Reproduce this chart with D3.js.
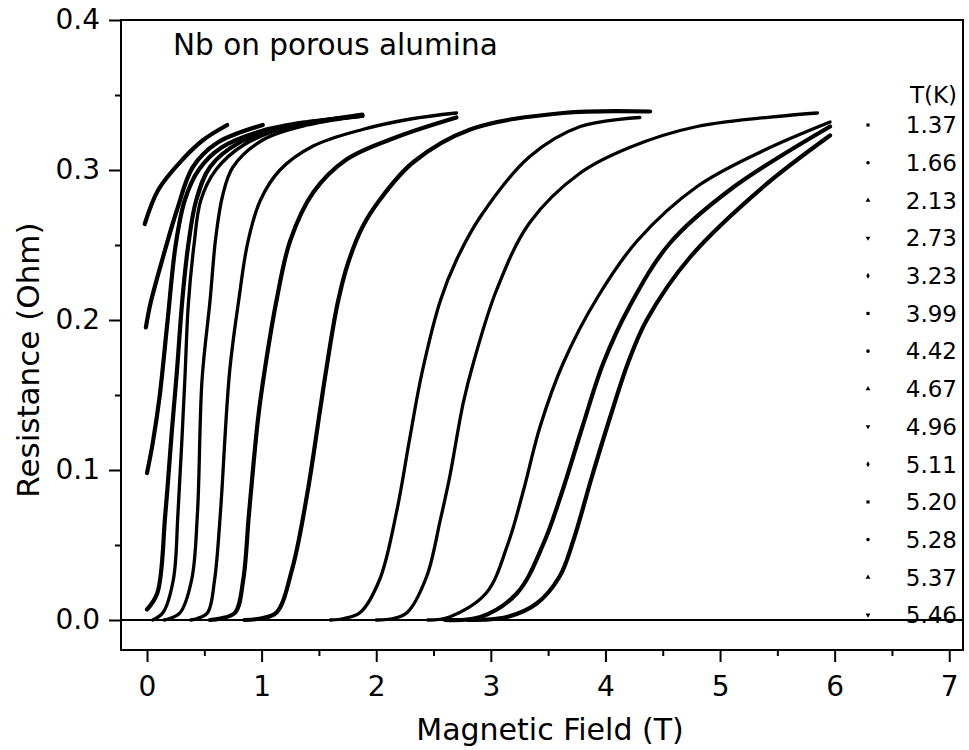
<!DOCTYPE html>
<html>
<head>
<meta charset="utf-8">
<script src="https://cdn.jsdelivr.net/npm/d3@7"></script>
<style>
  html, body { margin: 0; padding: 0; background: #fff; }
  svg { display: block; }
  text { font-family: "DejaVu Sans", "Liberation Sans", Arial, sans-serif; fill: #000; }
</style>
</head>
<body>
<svg id="chart" width="969" height="750"></svg>
<script>
// ---------------- DATA ----------------
const temperatures = ["1.37","1.66","2.13","2.73","3.23","3.99","4.42","4.67","4.96","5.11","5.20","5.28","5.37","5.46"];
const xTicks = [0, 1, 2, 3, 4, 5, 6, 7];
const xMinorTicks = [0.5, 1.5, 2.5, 3.5, 4.5, 5.5, 6.5];
const yTicks = [0.0, 0.1, 0.2, 0.3, 0.4];
const yMinorTicks = [0.05, 0.15, 0.25, 0.35];

// [field (T), resistance (Ohm)]
const curve_1_37 = [[2.8,0],[3.14,0.002],[3.40,0.011],[3.60,0.029],[3.72,0.053],[3.88,0.095],[4.04,0.135],[4.2,0.172],[4.36,0.2],[4.74,0.242],[5.38,0.289],[5.96,0.323]];
const curve_1_66 = [[2.6,0],[2.91,0.002],[3.23,0.018],[3.46,0.051],[3.62,0.085],[3.80,0.129],[3.98,0.171],[4.21,0.209],[4.56,0.251],[5.09,0.287],[5.96,0.329]];
const curve_2_13 = [[2.45,0],[2.64,0.002],[2.96,0.018],[3.15,0.051],[3.28,0.085],[3.43,0.129],[3.63,0.171],[3.93,0.215],[4.28,0.253],[4.80,0.289],[5.38,0.313],[5.96,0.332]];
const curve_2_73 = [[2.0,0],[2.15,0.001],[2.27,0.005],[2.44,0.029],[2.56,0.067],[2.64,0.095],[2.76,0.145],[2.85,0.172],[3.05,0.22],[3.34,0.265],[3.78,0.298],[4.21,0.315],[4.80,0.329],[5.85,0.338]];
const curve_3_23 = [[1.6,0],[1.72,0.001],[1.86,0.005],[2.03,0.027],[2.18,0.073],[2.29,0.12],[2.40,0.165],[2.56,0.213],[2.70,0.24],[2.91,0.269],[3.34,0.309],[3.78,0.329],[4.30,0.335]];
const curve_3_99 = [[0.85,0],[0.99,0.001],[1.13,0.005],[1.27,0.035],[1.40,0.085],[1.51,0.14],[1.56,0.165],[1.66,0.21],[1.75,0.237],[1.88,0.262],[2.03,0.28],[2.32,0.305],[2.82,0.327],[3.63,0.338],[4.39,0.339]];
const curve_4_42 = [[0.55,0],[0.64,0.001],[0.77,0.005],[0.84,0.027],[0.89,0.071],[0.97,0.135],[1.03,0.168],[1.13,0.213],[1.25,0.253],[1.45,0.285],[1.74,0.307],[2.18,0.322],[2.70,0.335]];
const curve_4_67 = [[0.38,0],[0.44,0.001],[0.53,0.005],[0.59,0.027],[0.64,0.071],[0.72,0.165],[0.80,0.213],[0.88,0.252],[0.99,0.28],[1.16,0.30],[1.45,0.316],[1.88,0.327],[2.3,0.334],[2.70,0.338]];
const curve_4_96 = [[0.15,0],[0.20,0.001],[0.29,0.005],[0.39,0.027],[0.44,0.071],[0.48,0.16],[0.55,0.213],[0.60,0.255],[0.66,0.283],[0.75,0.302],[1.01,0.32],[1.4,0.33],[1.88,0.336]];
const curve_5_11 = [[0.05,0],[0.14,0.005],[0.23,0.027],[0.27,0.071],[0.33,0.16],[0.36,0.21],[0.41,0.25],[0.47,0.28],[0.6,0.30],[0.85,0.317],[1.3,0.33],[1.88,0.336]];
const curve_5_20 = [[0,0.007],[0.09,0.018],[0.16,0.071],[0.22,0.129],[0.26,0.165],[0.31,0.215],[0.36,0.25],[0.43,0.28],[0.55,0.302],[0.8,0.318],[1.2,0.328],[1.88,0.337]];
const curve_5_28 = [[0,0.098],[0.05,0.118],[0.11,0.149],[0.18,0.2],[0.25,0.25],[0.33,0.28],[0.45,0.30],[0.65,0.315],[1.0,0.326],[1.4,0.332],[1.88,0.336]];
const curve_5_37 = [[-0.01,0.195],[0.03,0.211],[0.14,0.242],[0.26,0.273],[0.40,0.302],[0.61,0.318],[1.01,0.33]];
const curve_5_46 = [[-0.02,0.264],[0.10,0.287],[0.31,0.307],[0.49,0.32],[0.70,0.33]];

const curves = [curve_1_37, curve_1_66, curve_2_13, curve_2_73, curve_3_23, curve_3_99, curve_4_42,
                curve_4_67, curve_4_96, curve_5_11, curve_5_20, curve_5_28, curve_5_37, curve_5_46];

// ---------------- DRAWING ----------------
const svg = d3.select("#chart");
const pLeft = 121, pRight = 963, pTop = 20, pBottom = 650;

const x = d3.scaleLinear().domain([-0.227, 7.12]).range([pLeft, pRight]);
const y = d3.scaleLinear().domain([-0.02, 0.4]).range([pBottom, pTop]);

// series
const line = d3.line().x(d => x(d[0])).y(d => y(d[1])).curve(d3.curveCatmullRom.alpha(0.5));
const sparse = new Set(["2.13","2.73","3.23","4.67","4.96","5.11"]);
svg.append("g").selectAll("path").data(curves).join("path")
  .attr("d", line)
  .attr("fill", "none")
  .attr("stroke", "#000")
  .attr("stroke-width", (d, i) => sparse.has(temperatures[i]) ? 3.3 : 4.2)
  .attr("stroke-linecap", "round")
  .attr("stroke-linejoin", "round");

// zero line
svg.append("line")
  .attr("x1", pLeft).attr("x2", pRight)
  .attr("y1", y(0)).attr("y2", y(0))
  .attr("stroke", "#000").attr("stroke-width", 2);

// frame
svg.append("rect")
  .attr("x", pLeft).attr("y", pTop)
  .attr("width", pRight - pLeft).attr("height", pBottom - pTop)
  .attr("fill", "none").attr("stroke", "#000").attr("stroke-width", 2);

// axes
const yAxis = svg.append("g").attr("transform", `translate(${pLeft},0)`)
  .call(d3.axisLeft(y).tickValues(yTicks).tickFormat(d3.format(".1f")).tickSize(12).tickPadding(9));
const yMinor = svg.append("g").attr("transform", `translate(${pLeft},0)`)
  .call(d3.axisLeft(y).tickValues(yMinorTicks).tickFormat("").tickSize(6));
const xAxis = svg.append("g").attr("transform", `translate(0,${pBottom})`)
  .call(d3.axisBottom(x).tickValues(xTicks).tickFormat(d3.format("d")).tickSize(12).tickPadding(14));
const xMinor = svg.append("g").attr("transform", `translate(0,${pBottom})`)
  .call(d3.axisBottom(x).tickValues(xMinorTicks).tickFormat("").tickSize(6));

[yAxis, yMinor, xAxis, xMinor].forEach(g => {
  g.select(".domain").remove();
  g.selectAll(".tick line").attr("stroke", "#000").attr("stroke-width", 2);
  g.selectAll(".tick text").attr("font-size", 28).attr("font-family", "DejaVu Sans, sans-serif").attr("fill", "#000");
});

// axis titles
svg.append("text")
  .attr("x", 550).attr("y", 740)
  .attr("text-anchor", "middle")
  .attr("font-size", 30)
  .text("Magnetic Field (T)");

svg.append("text")
  .attr("transform", "translate(39,360) rotate(-90)")
  .attr("text-anchor", "middle")
  .attr("font-size", 31)
  .text("Resistance (Ohm)");

// annotation
svg.append("text")
  .attr("x", 173).attr("y", 55)
  .attr("font-size", 29.5)
  .text("Nb on porous alumina");

// legend
const shapes = [d3.symbolSquare, d3.symbolCircle, d3.symbolTriangle, "down", d3.symbolDiamond];
const legY = d3.scaleLinear().domain([0, 13]).range([125, 615]);
svg.append("text")
  .attr("x", 957).attr("y", 103)
  .attr("text-anchor", "end")
  .attr("font-size", 23)
  .text("T(K)");

const leg = svg.append("g").selectAll("g").data(temperatures).join("g")
  .attr("transform", (d, i) => `translate(0,${legY(i)})`);
leg.append("path")
  .attr("transform", (d, i) => shapes[i % 5] === "down" ? "translate(868,0) rotate(180)" : "translate(868,0)")
  .attr("d", (d, i) => d3.symbol().type(shapes[i % 5] === "down" ? d3.symbolTriangle : shapes[i % 5]).size(10)())
  .attr("fill", "#000");
leg.append("text")
  .attr("x", 957).attr("y", 0).attr("dy", "0.36em")
  .attr("text-anchor", "end")
  .attr("font-size", 23)
  .text(d => d);
</script>
</body>
</html>
